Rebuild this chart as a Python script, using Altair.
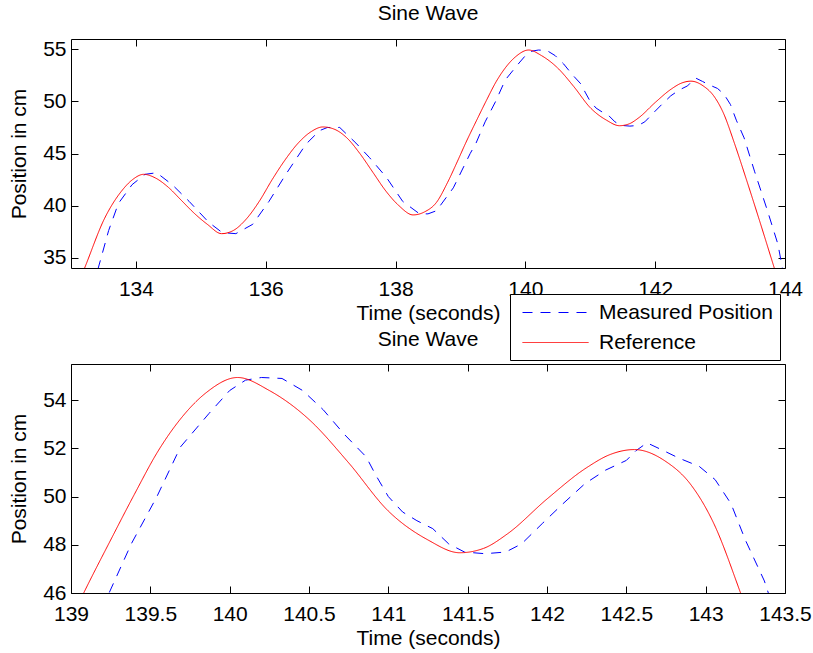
import altair as alt
import pandas as pd

# ---- data ----
SERIES = ["Measured Position", "Reference"]

ref_t = [133.0, 133.21, 133.52, 133.78, 133.95, 134.12, 134.3, 134.5, 134.7, 134.9,
         135.1, 135.32, 135.5, 135.7, 135.9, 136.1, 136.3, 136.5, 136.7, 136.88,
         137.05, 137.25, 137.45, 137.65, 137.85, 138.05, 138.27, 138.45, 138.63, 138.8,
         138.95, 139.08, 139.25, 139.4, 139.55, 139.7, 139.85, 140.05, 140.25, 140.5,
         140.75, 141.0, 141.25, 141.45, 141.6, 141.75, 142.0, 142.25, 142.4, 142.55,
         142.75, 142.9, 143.05, 143.22, 143.4, 143.6, 143.8, 143.95]
ref_y = [30.8, 34.0, 38.8, 41.4, 42.5, 43.0, 42.65, 41.75, 40.5, 39.25,
         38.2, 37.3, 37.6, 38.7, 40.4, 42.5, 44.4, 46.0, 47.1, 47.55,
         47.35, 46.5, 45.0, 43.2, 41.4, 40.0, 39.1, 39.4, 40.3, 42.2,
         44.2, 46.0, 48.2, 50.1, 51.9, 53.3, 54.3, 54.94, 54.4, 53.2,
         51.4, 49.4, 48.2, 47.67, 47.85, 48.45, 49.9, 51.2, 51.75, 51.95,
         51.45, 50.55, 48.9, 46.0, 42.6, 38.7, 34.7, 31.7]

meas_t = [133.25, 133.42, 133.58, 133.73, 133.94, 134.14, 134.32, 134.56, 134.82, 135.12,
          135.33, 135.54, 135.8, 136.05, 136.31, 136.62, 136.83, 136.95, 137.14, 137.39,
          137.6, 137.86, 138.11, 138.37, 138.5, 138.63, 138.89, 139.15, 139.24, 139.38,
          139.54, 139.69, 139.87, 140.0, 140.1, 140.2, 140.33, 140.46, 140.59, 140.72,
          140.86, 140.92, 141.0, 141.09, 141.18, 141.28, 141.38, 141.48, 141.61, 141.74,
          141.84, 141.97, 142.1, 142.24, 142.37, 142.5, 142.56, 142.63, 142.73, 142.83,
          142.96, 143.06, 143.16, 143.25, 143.37, 143.53, 143.73, 143.89, 143.96, 144.05]
meas_y = [30.5, 34.0, 37.6, 40.2, 42.0, 43.0, 43.15, 42.0, 40.4, 38.4,
          37.4, 37.3, 38.2, 40.4, 43.0, 45.9, 47.2, 47.5, 47.5, 46.0,
          44.6, 42.7, 40.4, 39.2, 39.2, 39.5, 41.7, 45.0, 46.0, 48.04,
          49.98, 52.06, 53.45, 54.4, 54.83, 54.94, 54.9, 54.4, 53.6, 52.6,
          51.65, 50.9, 50.0, 49.36, 49.0, 48.67, 48.04, 47.7, 47.63, 47.7,
          48.04, 48.88, 49.7, 50.54, 51.1, 51.5, 51.9, 52.23, 51.92, 51.6,
          51.25, 50.7, 49.7, 48.2, 46.5, 43.3, 39.5, 36.3, 34.0, 32.0]

top_x_ticks = [134, 136, 138, 140, 142, 144]
top_y_ticks = [35, 40, 45, 50, 55]
bot_x_ticks = [139, 139.5, 140, 140.5, 141, 141.5, 142, 142.5, 143, 143.5]
bot_y_ticks = [46, 48, 50, 52, 54]

TITLE = "Sine Wave"
XTITLE = "Time (seconds)"
YTITLE = "Position in cm"

df = pd.concat([
    pd.DataFrame({"t": meas_t, "y": meas_y, "series": SERIES[0]}),
    pd.DataFrame({"t": ref_t, "y": ref_y, "series": SERIES[1]}),
], ignore_index=True)

FONT = "Liberation Sans"
W, H = 714, 229

legend = alt.Legend(
    title=None, orient="none", legendX=439, legendY=255, direction="vertical",
    symbolType="M-3,0H3", symbolSize=484, symbolStrokeWidth=1, symbolOffset=27,
    labelFontSize=21, labelFont=FONT, labelColor="black", labelOffset=32, labelLimit=0,
    padding=7, rowPadding=8, strokeColor="black", fillColor="white",
)
color = alt.Color("series:N", scale=alt.Scale(domain=SERIES, range=["#0000ff", "#ff0000"]),
                  legend=legend)
dash = alt.StrokeDash("series:N", scale=alt.Scale(domain=SERIES, range=[[10, 8], [1, 0]]),
                      legend=legend)


def tick_axis(orient, offset, vals):
    return alt.Axis(orient=orient, offset=offset, values=vals, labels=False, domain=False,
                    grid=False, ticks=True, tickSize=7, tickColor="black", tickWidth=1,
                    title=None)


def panel(xdom, ydom, xticks, yticks, xfmt):
    xs = alt.Scale(domain=xdom, nice=False, zero=False)
    ys = alt.Scale(domain=ydom, nice=False, zero=False)
    main_x = alt.Axis(orient="bottom", values=xticks, format=xfmt, title=XTITLE,
                      ticks=False, tickSize=0, domain=False, grid=False,
                      labelFlush=False, labelOverlap=False,
                      labelPadding=10, titlePadding=3)
    main_y = alt.Axis(orient="left", values=yticks, title=YTITLE, ticks=False, tickSize=0,
                      domain=False, grid=False, labelFlush=False, labelOverlap=False,
                      labelPadding=5, titlePadding=13)
    base = alt.Chart(df)
    blue = base.transform_filter(alt.datum.series == SERIES[0]).mark_line(
        clip=True, strokeWidth=1).encode(
        x=alt.X("t:Q", scale=xs, axis=tick_axis("top", -H, xticks)),
        y=alt.Y("y:Q", scale=ys, axis=tick_axis("right", -W, yticks)),
        color=color, strokeDash=dash, order="t:Q")
    red = base.transform_filter(alt.datum.series == SERIES[1]).mark_line(
        clip=True, strokeWidth=1, interpolate="monotone").encode(
        x=alt.X("t:Q", scale=xs, axis=main_x),
        y=alt.Y("y:Q", scale=ys, axis=main_y),
        color=color, strokeDash=dash, order="t:Q")
    ghost = base.mark_line(clip=True, strokeOpacity=0).encode(
        x=alt.X("t:Q", scale=xs, axis=tick_axis("bottom", -H, xticks)),
        y=alt.Y("y:Q", scale=ys, axis=tick_axis("left", -W, yticks)),
        detail="series:N")
    return alt.layer(blue, red, ghost).resolve_axis(
        x="independent", y="independent").properties(
        width=W, height=H, title=alt.TitleParams(TITLE, offset=14))


top = panel([133, 144], [34, 56], top_x_ticks, top_y_ticks, "d")
bottom = panel([139, 143.5], [46, 55.5], bot_x_ticks, bot_y_ticks, "~f")

chart = alt.vconcat(top, bottom, spacing=96, bounds="flush").properties(
    padding={"left": 8, "top": 2, "right": 0, "bottom": 0},
    background="white",
).configure_view(stroke="black", strokeWidth=1).configure_axis(
    labelFont=FONT, titleFont=FONT, labelFontSize=21, titleFontSize=21,
    labelColor="black", titleColor="black", titleFontWeight="normal",
).configure_title(font=FONT, fontSize=21, fontWeight="normal", color="black")

chart.save("out.html", embed_options={"renderer": "svg", "actions": False})
